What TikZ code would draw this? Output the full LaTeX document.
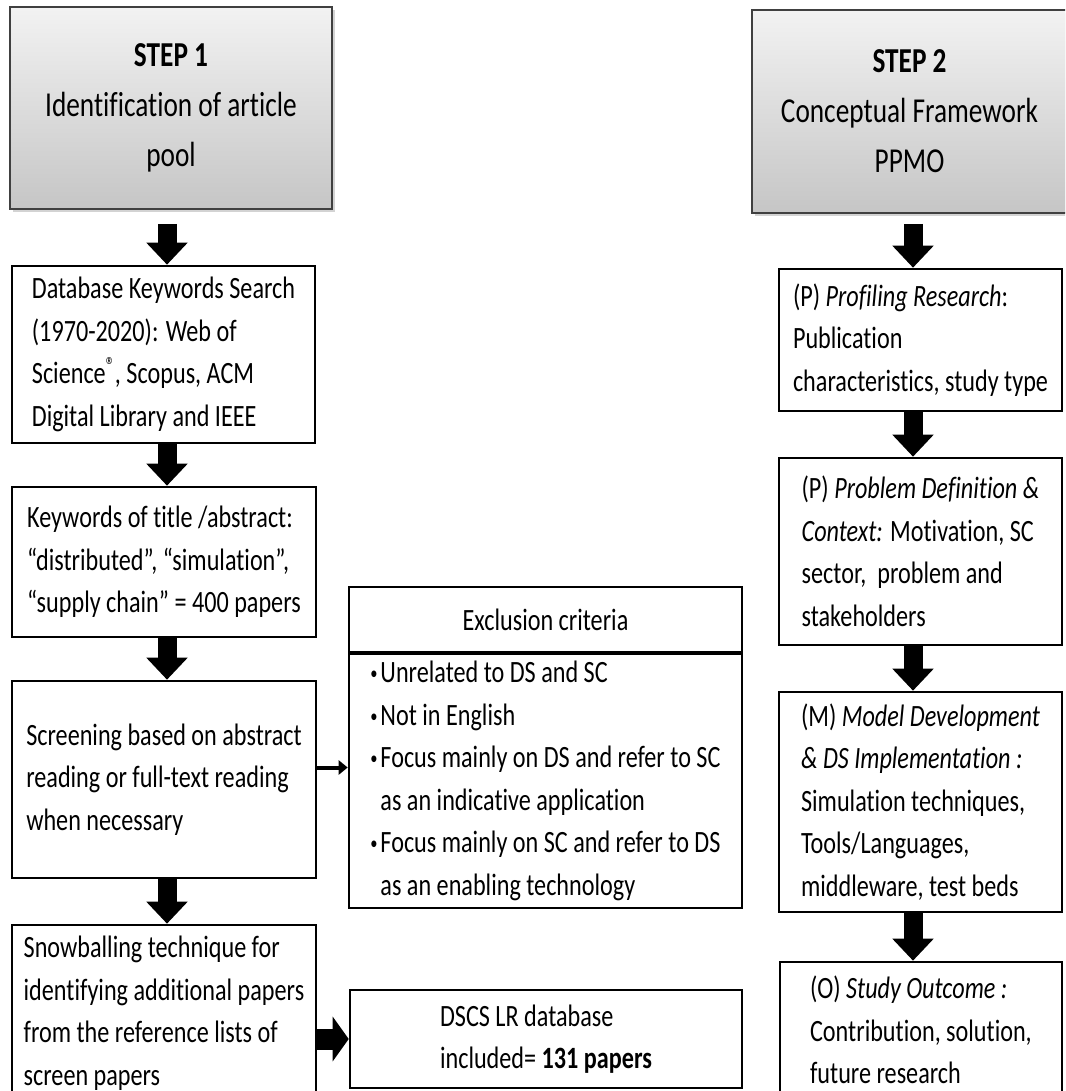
\documentclass[tikz,border=0pt]{standalone}
\usepackage{fontspec}
\setmainfont{Carlito}[FakeStretch=0.78,Ligatures={NoCommon}]
\usetikzlibrary{arrows.meta,shadows}
\newcommand\exbul{\makebox[10pt][l]{\raisebox{0.2ex}{\scalebox{0.6}{•}}}}
\begin{document}
\begin{tikzpicture}[x=1pt,y=-1pt,
  box/.style={draw=black, line width=2.6pt, fill=white, align=left, inner sep=0pt,
    font=\fontsize{31}{42.5}\selectfont},
  stepbox/.style={draw=black!75, line width=2pt, top color=gray!10, bottom color=gray!45,
    drop shadow={shadow xshift=3pt, shadow yshift=-3pt, opacity=0.35},
    align=center, inner sep=0pt, font=\fontsize{35}{50}\selectfont},
  blk/.style={line width=19pt, -{Triangle[width=40pt,length=22pt]}},
  blkr/.style={line width=21pt, -{Triangle[width=44pt,length=16pt]}},
  thinarr/.style={line width=4pt, -{Triangle[width=14pt,length=9pt]}}]
\useasboundingbox (0,0) rectangle (1065,1091);
\clip (0,0) rectangle (1065,1091);

% column axes
\coordinate (axL) at (167,0);
\coordinate (axR) at (913,0);

% STEP boxes
\node[stepbox, minimum width=322, minimum height=202] (s1) at (171,108)
  {\textbf{STEP 1}\\Identification of article\\pool};
\node[stepbox, minimum width=315, minimum height=203] (s2) at (909.5,111.5)
  {\textbf{STEP 2}\\Conceptual Framework\\PPMO};

% left column
\node[box, minimum width=303, minimum height=177] (db) at (163.5,354.5)
  {Database Keywords Search\\(1970-2020): Web of\\Science\raisebox{0.7ex}{\scalebox{0.75}{®}}, Scopus, ACM\\Digital Library and IEEE};
\node[box, minimum width=304, minimum height=150] (kw) at (164,562)
  {Keywords of title /abstract:\\“distributed”, “simulation”,\\“supply chain” = 400 papers};
\node[box, minimum width=304, minimum height=197] (scr) at (164,779.5)
  {Screening based on abstract\\reading or full-text reading\\when necessary};
\node[box, minimum width=304, minimum height=176] (snow) at (164,1013)
  {Snowballing technique for\\identifying additional papers\\from the reference lists of\\screen papers};

% middle column
\node[box, minimum width=393, minimum height=65, align=center] (exh) at (545.5,619.5)
  {Exclusion criteria};
\node[box, minimum width=393, minimum height=254] (exb) at (545.5,781)
  {\exbul Unrelated to DS and SC\\
   \exbul Not in English\\
   \exbul Focus mainly on DS and refer to SC\hspace*{10pt}\\
   \hspace*{10pt}as an indicative application\\
   \exbul Focus mainly on SC and refer to DS\hspace*{10pt}\\
   \hspace*{10pt}as an enabling technology};
\node[box, minimum width=392, minimum height=98] (dscs) at (546,1039)
  {DSCS LR database\\included= \textbf{131 papers}};

% right column
\node[box, minimum width=283, minimum height=142] (p1) at (920.5,340)
  {(P) \textit{Profiling Research}:\\Publication\\characteristics, study type};
\node[box, minimum width=283, minimum height=187] (p2) at (920.5,551.5)
  {(P) \textit{Problem Definition \&}\\\textit{Context:} Motivation, SC\\sector,\ \ problem and\\stakeholders};
\node[box, minimum width=283, minimum height=220] (m) at (920.5,802)
  {(M) \textit{Model Development}\\\textit{\& DS Implementation :}\\Simulation techniques,\\Tools/Languages,\\middleware, test beds};
\node[box, minimum width=282, minimum height=136] (o) at (921,1030)
  {(O) \textit{Study Outcome :}\\Contribution, solution,\\future research};

% connectors
\draw[blk, shorten <=14pt] (s1.south -| axL) -- (db.north -| axL);
\draw[blk] (db.south -| axL) -- (kw.north -| axL);
\draw[blk] (kw.south -| axL) -- (scr.north -| axL);
\draw[blk] (scr.south -| axL) -- (snow.north -| axL);
\draw[blk, shorten <=10pt] (s2.south -| axR) -- (p1.north -| axR);
\draw[blk] (p1.south -| axR) -- (p2.north -| axR);
\draw[blk] (p2.south -| axR) -- (m.north -| axR);
\draw[blk] (m.south -| axR) -- (o.north -| axR);
\draw[thinarr] ([yshift=12pt]scr.east) -- ([yshift=12pt]scr.east -| exb.west);
\draw[blkr] (snow.east |- dscs.west) -- (dscs.west);
\end{tikzpicture}
\end{document}
